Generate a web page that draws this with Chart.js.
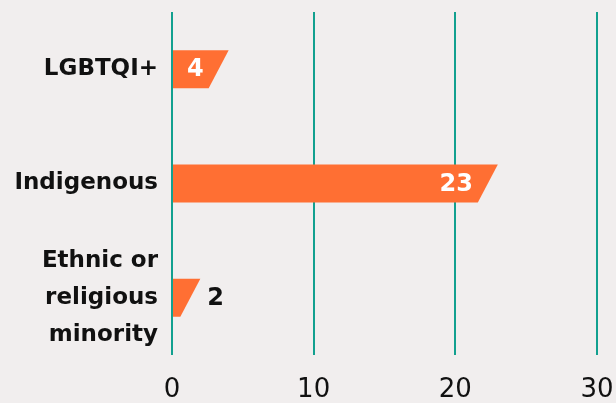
<!DOCTYPE html>
<html>
<head>
<meta charset="utf-8">
<script src="https://cdn.jsdelivr.net/npm/chart.js@4"></script>
<style>
  html, body { margin: 0; padding: 0; background: #f1eeee; }
  #wrap { width: 616px; height: 403px; }
</style>
</head>
<body>
<div id="wrap"><canvas id="groupChart" width="616" height="403"></canvas></div>
<script>
const groups = [['LGBTQI+'], ['Indigenous'], ['Ethnic or', 'religious', 'minority']];
const counts = [4, 23, 2];
const xTicks = [0, 10, 20, 30];

const ORANGE = '#ff6f33';
const TEAL = '#12a08f';
const SLANT = 20;
const FONT = '"DejaVu Sans"';

// draws each bar as a slanted-end shape plus its value label
const slantBars = {
    id: 'slantBars',
    afterDatasetsDraw(chart) {
        const ctx = chart.ctx;
        const meta = chart.getDatasetMeta(0);
        meta.data.forEach((bar, i) => {
            const p = bar.getProps(['x', 'y', 'base', 'height'], true);
            const top = p.y - p.height / 2;
            const bottom = p.y + p.height / 2;
            ctx.save();
            ctx.fillStyle = ORANGE;
            ctx.beginPath();
            ctx.moveTo(p.base, top);
            ctx.lineTo(p.x, top);
            ctx.lineTo(p.x - SLANT, bottom);
            ctx.lineTo(p.base, bottom);
            ctx.closePath();
            ctx.fill();

            const text = String(counts[i]);
            ctx.font = 'bold 24px ' + FONT;
            ctx.textBaseline = 'middle';
            const w = ctx.measureText(text).width;
            if (p.x - SLANT - p.base > w + 12) {
                ctx.fillStyle = '#ffffff';
                ctx.textAlign = 'right';
                ctx.fillText(text, p.x - SLANT - 5, p.y + 1);
            } else {
                ctx.fillStyle = '#111111';
                ctx.textAlign = 'left';
                ctx.fillText(text, p.x + 7, p.y + 1);
            }
            ctx.restore();
        });
    }
};

new Chart(document.getElementById('groupChart'), {
    type: 'bar',
    data: {
        labels: groups,
        datasets: [{
            data: counts,
            backgroundColor: 'rgba(0,0,0,0)',
            barThickness: 38
        }]
    },
    options: {
        indexAxis: 'y',
        responsive: false,
        animation: false,
        layout: { padding: { top: 12, right: 0, left: 0, bottom: 0 } },
        plugins: {
            legend: { display: false },
            tooltip: { enabled: false }
        },
        scales: {
            x: {
                min: 0,
                max: 30,
                afterBuildTicks: axis => { axis.ticks = xTicks.map(v => ({ value: v })); },
                afterFit: axis => {
                    axis.height = 48;
                    axis.paddingLeft = 0;
                    axis.paddingRight = 19;
                },
                grid: { color: TEAL, lineWidth: 2, drawTicks: false },
                border: { display: false },
                ticks: {
                    padding: 20,
                    color: '#111111',
                    font: { family: FONT, size: 26 }
                }
            },
            y: {
                afterFit: axis => {
                    axis.width = 172;
                    axis.paddingTop = 0;
                    axis.paddingBottom = 0;
                },
                grid: { display: false },
                border: { display: false },
                ticks: {
                    autoSkip: false,
                    padding: 6,
                    color: '#111111',
                    font: { family: FONT, size: 23, weight: 'bold', lineHeight: 1.6 }
                }
            }
        }
    },
    plugins: [slantBars]
});
</script>
</body>
</html>
